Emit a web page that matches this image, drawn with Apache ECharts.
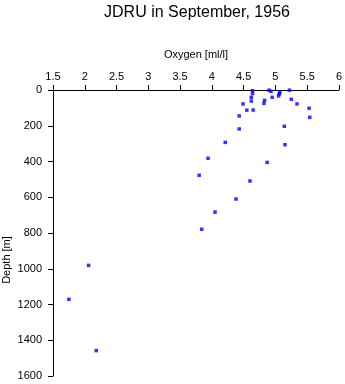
<!DOCTYPE html>
<html>
<head>
<meta charset="utf-8">
<script src="https://cdn.jsdelivr.net/npm/echarts@6/dist/echarts.min.js"></script>
<style>html,body{margin:0;padding:0;background:#fff}#c{width:345px;height:384px}</style>
</head>
<body>
<div id="c"></div>
<script>
var titleText = 'JDRU in September, 1956';
var xName = 'Oxygen [ml/l]';
var yName = 'Depth [m]';
var oxygen = [4.64, 4.64, 4.62, 4.62, 4.65, 4.55, 4.49, 4.43, 4.43, 4.21, 3.94, 3.80,
              4.90, 4.93, 4.95, 4.83, 4.82, 5.07, 5.06, 5.05, 5.22, 5.25, 5.34, 5.53,
              5.54, 5.14, 5.15, 4.87, 4.60, 4.38, 4.05, 3.84, 2.06, 1.75, 2.18];
var depth  = [4, 20, 41, 62, 112, 113, 78, 145, 218, 293, 382, 477,
              1, 8, 41, 58, 75, 13, 22, 33, 1, 52, 78, 102,
              153, 203, 306, 405, 509, 610, 683, 779, 981, 1171, 1458];

var pts = oxygen.map(function (o, i) { return [o, depth[i]]; });
var font = 'Liberation Sans, Arial, Helvetica, sans-serif';
var chart = echarts.init(document.getElementById('c'), null, {renderer: 'canvas'});
chart.setOption({
  animation: false,
  backgroundColor: '#fff',
  title: {
    text: titleText, left: 192, top: 0, textAlign: 'center',
    textStyle: {fontFamily: font, fontSize: 16, fontWeight: 'normal', color: '#000'}
  },
  grid: {left: 53, right: 6, top: 90, bottom: 8, containLabel: false},
  xAxis: {
    type: 'value', position: 'top', min: 1.5, max: 6, interval: 0.5,
    name: xName, nameLocation: 'middle', nameGap: 30,
    nameTextStyle: {fontFamily: font, fontSize: 11, color: '#000'},
    axisLine: {show: true, onZero: false, lineStyle: {color: '#000', width: 1}},
    axisTick: {show: true, length: 5, lineStyle: {color: '#000'}},
    axisLabel: {fontFamily: font, fontSize: 11, color: '#000', margin: 8},
    splitLine: {show: false}
  },
  yAxis: {
    type: 'value', inverse: true, min: 0, max: 1600, interval: 200,
    axisLine: {show: true, onZero: false, lineStyle: {color: '#000', width: 1}},
    axisTick: {show: true, length: 5, lineStyle: {color: '#000'}},
    axisLabel: {fontFamily: font, fontSize: 11, color: '#000', margin: 11,
                formatter: function (v) { return String(v); }},
    splitLine: {show: false}
  },
  graphic: [{
    type: 'text', x: 7, y: 260, rotation: Math.PI / 2,
    style: {text: yName, fontFamily: font, fontSize: 11, fill: '#000',
            textAlign: 'center', textVerticalAlign: 'middle'}
  }],
  series: [{
    type: 'scatter', data: pts, symbol: 'rect', symbolSize: 3.5,
    itemStyle: {color: '#0000ff'}
  }]
});
</script>
</body>
</html>
